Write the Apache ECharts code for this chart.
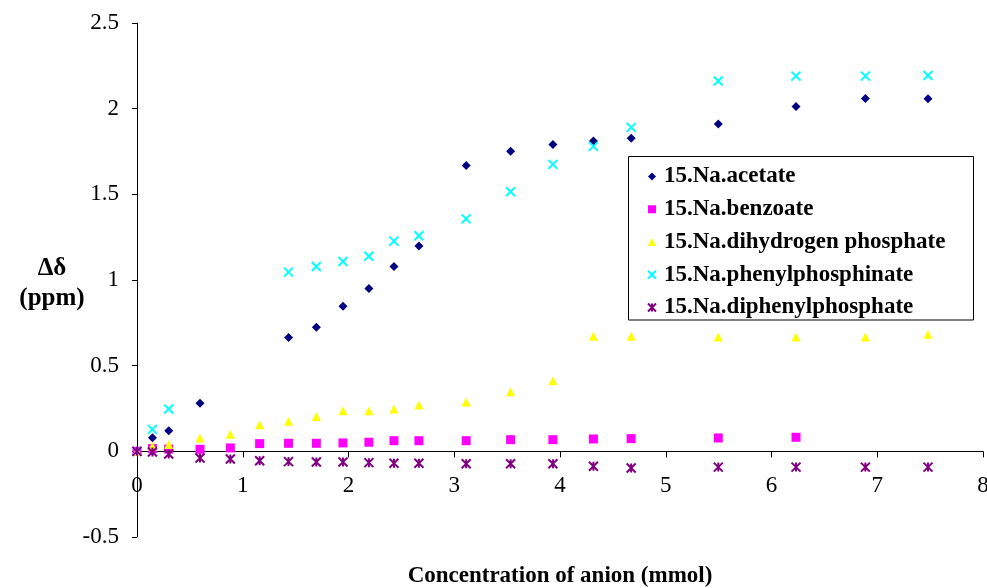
<!DOCTYPE html>
<html>
<head>
<meta charset="utf-8">
<script src="https://cdn.jsdelivr.net/npm/echarts@6/dist/echarts.min.js"></script>
<style>
  html, body { margin: 0; padding: 0; background: #ffffff; }
  #chart { width: 987px; height: 588px; }
</style>
</head>
<body>
<div id="chart"></div>
<script>
// Anion concentration (mmol) at each titration point
const concentration = [0, 0.146, 0.30, 0.596, 0.883, 1.16, 1.433, 1.696, 1.948, 2.193, 2.43, 2.666,
                       3.113, 3.533, 3.933, 4.316, 4.673, 5.497, 6.232, 6.888, 7.48];

// Chemical shift change (ppm) for each anion; null where no point was recorded
const acetate = [0, 0.08, 0.12, 0.28, null, null, 0.665, 0.724, 0.847, 0.95, 1.079, 1.199,
                 1.669, 1.752, 1.791, 1.811, 1.827, 1.91, 2.013, 2.06, 2.058];
const benzoate = [0, 0.016, 0.013, 0.012, 0.02, 0.045, 0.047, 0.047, 0.049, 0.053, 0.062, 0.062,
                  0.062, 0.068, 0.068, 0.072, 0.074, 0.078, 0.082, null, null];
const dihydrogenPhosphate = [0, 0.03, 0.04, 0.078, 0.10, 0.155, 0.175, 0.204, 0.237, 0.237, 0.247, 0.27,
                             0.288, 0.348, 0.412, 0.671, 0.671, 0.667, 0.667, 0.667, 0.684];
const phenylphosphinate = [0, 0.128, 0.247, null, null, null, 1.046, 1.079, 1.108, 1.139, 1.227, 1.258,
                           1.357, 1.515, 1.675, 1.78, 1.891, 2.161, 2.19, 2.19, 2.194];
const diphenylphosphate = [0, -0.004, -0.016, -0.039, -0.045, -0.055, -0.06, -0.062, -0.062, -0.066, -0.07, -0.07,
                           -0.072, -0.072, -0.072, -0.087, -0.097, -0.092, -0.092, -0.092, -0.092];

const seriesNames = ['15.Na.acetate', '15.Na.benzoate', '15.Na.dihydrogen phosphate',
                     '15.Na.phenylphosphinate', '15.Na.diphenylphosphate'];

const FONT = '"Liberation Serif", "Times New Roman", serif';

function pairs(values) {
  return concentration.map((c, i) => [c, values[i]]).filter(p => p[1] !== null);
}

const chart = echarts.init(document.getElementById('chart'));

chart.setOption({
  animation: false,
  backgroundColor: '#ffffff',
  grid: { left: 137, right: 4, top: 23, bottom: 51, containLabel: false, outerBoundsMode: 'none' },
  xAxis: {
    type: 'value',
    min: 0, max: 8, interval: 1,
    name: 'Concentration of anion (mmol)',
    nameLocation: 'middle',
    nameGap: 28,
    nameTextStyle: { fontFamily: FONT, fontWeight: 'bold', fontSize: 23, color: '#000' },
    axisLine: { show: true, onZero: true, lineStyle: { color: '#000', width: 1 } },
    axisTick: { show: true, inside: false, length: 6, lineStyle: { color: '#000' } },
    axisLabel: { fontFamily: FONT, fontSize: 23, color: '#000', margin: -63 },
    splitLine: { show: false }
  },
  yAxis: {
    type: 'value',
    min: -0.5, max: 2.5, interval: 0.5,
    name: '{d|Δδ}\n{p|(ppm)}',
    nameLocation: 'middle',
    nameRotate: 0,
    nameGap: 85,
    nameMoveOverlap: false,
    nameTextStyle: {
      fontFamily: FONT, fontWeight: 'bold', color: '#000', align: 'center',
      padding: [8, 0, 0, 0],
      rich: {
        d: { fontFamily: FONT, fontWeight: 'bold', fontSize: 25, lineHeight: 30, color: '#000' },
        p: { fontFamily: FONT, fontWeight: 'bold', fontSize: 25, lineHeight: 30, color: '#000' }
      }
    },
    axisLine: { show: true, onZero: false, lineStyle: { color: '#000', width: 1 } },
    axisTick: { show: true, inside: false, length: 5, lineStyle: { color: '#000' } },
    axisLabel: { fontFamily: FONT, fontSize: 23, color: '#000', margin: 18 },
    splitLine: { show: false }
  },
  legend: {
    orient: 'vertical',
    left: 647, top: 164.5,
    padding: 0,
    itemWidth: 8, itemHeight: 8,
    itemGap: 8.75,
    textStyle: { fontFamily: FONT, fontWeight: 'bold', fontSize: 23, lineHeight: 24, color: '#000', padding: [0, 0, 0, 3] },
    data: seriesNames,
    z: 6
  },
  graphic: [{
    type: 'rect',
    z: 5,
    shape: { x: 628.5, y: 156.5, width: 345, height: 163.5 },
    style: { fill: '#ffffff', stroke: '#000000', lineWidth: 1 }
  }],
  series: [
    {
      name: seriesNames[0], type: 'scatter', data: pairs(acetate),
      symbol: 'diamond', symbolSize: 9,
      itemStyle: { color: '#000080', opacity: 1 }
    },
    {
      name: seriesNames[1], type: 'scatter', data: pairs(benzoate),
      symbol: 'rect', symbolSize: 9,
      itemStyle: { color: '#FF00FF', opacity: 1 }
    },
    {
      name: seriesNames[2], type: 'scatter', data: pairs(dihydrogenPhosphate),
      symbol: 'triangle', symbolSize: 9,
      itemStyle: { color: '#FFFF00', opacity: 1 }
    },
    {
      name: seriesNames[3], type: 'scatter', data: pairs(phenylphosphinate),
      symbol: 'path://M0,0L10,10M10,0L0,10', symbolSize: 9, symbolKeepAspect: true,
      itemStyle: { color: 'rgba(0,0,0,0)', borderColor: '#00FFFF', borderWidth: 2, opacity: 1 }
    },
    {
      name: seriesNames[4], type: 'scatter', data: pairs(diphenylphosphate),
      symbol: 'path://M0,0L10,10M10,0L0,10M5,0L5,10', symbolSize: 9, symbolKeepAspect: true,
      itemStyle: { color: 'rgba(0,0,0,0)', borderColor: '#800080', borderWidth: 2, opacity: 1 }
    }
  ]
});
</script>
</body>
</html>
